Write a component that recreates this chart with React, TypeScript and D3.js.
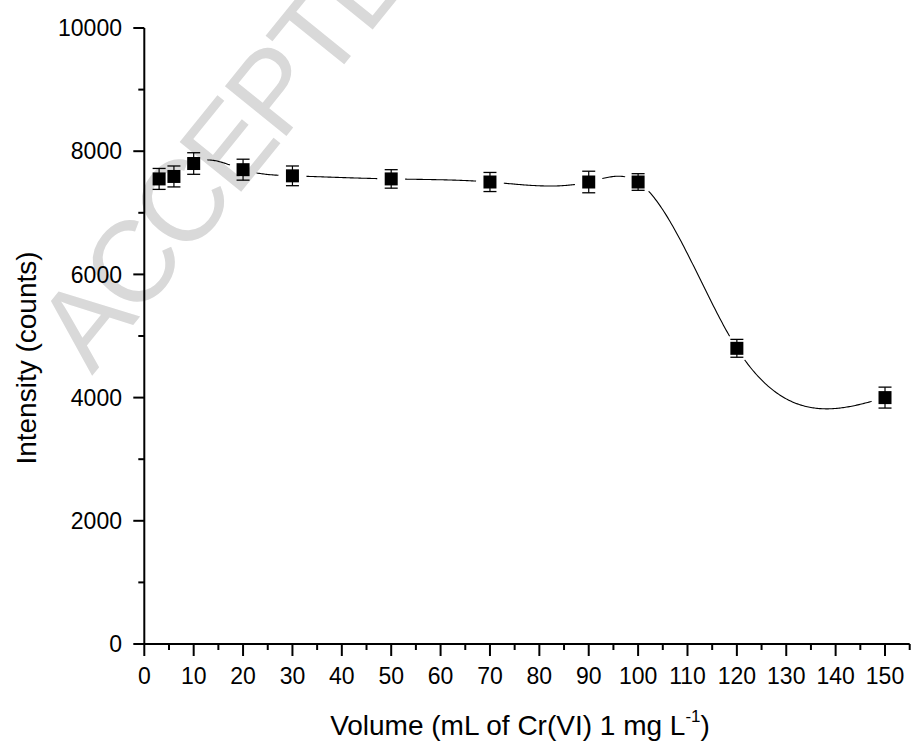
import React from "react";
import * as d3 from "d3";

const volumes = [3, 6, 10, 20, 30, 50, 70, 90, 100, 120, 150];
const intensity = [7550, 7590, 7800, 7700, 7600, 7550, 7500, 7500, 7500, 4800, 4000];
const intensityErr = [170, 170, 175, 170, 160, 150, 155, 175, 135, 145, 170];
const xMajorTicks = [0, 10, 20, 30, 40, 50, 60, 70, 80, 90, 100, 110, 120, 130, 140, 150];
const xMinorTicks = [5, 15, 25, 35, 45, 55, 65, 75, 85, 95, 105, 115, 125, 135, 145, 155];
const yMajorTicks = [0, 2000, 4000, 6000, 8000, 10000];
const yMinorTicks = [1000, 3000, 5000, 7000, 9000];

const W = 911;
const H = 744;
const FONT = "'Liberation Sans', Arial, Helvetica, sans-serif";

// natural cubic spline y(x) through the data points
function naturalSpline(xs: number[], ys: number[]) {
  const n = xs.length;
  const h: number[] = [];
  for (let i = 0; i < n - 1; i++) h.push(xs[i + 1] - xs[i]);
  const a = new Array(n).fill(0);
  const b = new Array(n).fill(1);
  const c = new Array(n).fill(0);
  const d = new Array(n).fill(0);
  for (let i = 1; i < n - 1; i++) {
    a[i] = h[i - 1];
    b[i] = 2 * (h[i - 1] + h[i]);
    c[i] = h[i];
    d[i] = 6 * ((ys[i + 1] - ys[i]) / h[i] - (ys[i] - ys[i - 1]) / h[i - 1]);
  }
  const cp = new Array(n).fill(0);
  const dp = new Array(n).fill(0);
  cp[0] = c[0] / b[0];
  dp[0] = d[0] / b[0];
  for (let i = 1; i < n; i++) {
    const m = b[i] - a[i] * cp[i - 1];
    cp[i] = c[i] / m;
    dp[i] = (d[i] - a[i] * dp[i - 1]) / m;
  }
  const M = new Array(n).fill(0);
  M[n - 1] = dp[n - 1];
  for (let i = n - 2; i >= 0; i--) M[i] = dp[i] - cp[i] * M[i + 1];
  return (x: number) => {
    let i = 0;
    while (i < n - 2 && x > xs[i + 1]) i++;
    const hi = h[i];
    const t1 = xs[i + 1] - x;
    const t2 = x - xs[i];
    return (
      (M[i] * t1 * t1 * t1) / (6 * hi) +
      (M[i + 1] * t2 * t2 * t2) / (6 * hi) +
      (ys[i] / hi - (M[i] * hi) / 6) * t1 +
      (ys[i + 1] / hi - (M[i + 1] * hi) / 6) * t2
    );
  };
}

export default function App() {
  const x = d3.scaleLinear().domain([0, 155]).range([144.3, 909.7]);
  const y = d3.scaleLinear().domain([0, 10000]).range([644, 28]);

  const spline = naturalSpline(volumes, intensity);
  const samples = d3.range(volumes[0], volumes[volumes.length - 1] + 0.001, 0.25);
  const line = d3
    .line<number>()
    .x((v) => x(v))
    .y((v) => y(spline(v)));
  const pathD = line(samples) || "";

  const pts = volumes.map((v, i) => ({ v, val: intensity[i], err: intensityErr[i] }));
  const axisY = 644;
  const axisX = 144.3;

  return (
    <div style={{ position: "absolute", left: 0, top: 0 }}>
      <svg width={W} height={H} style={{ display: "block", background: "#fff" }}>
        <defs>
          <mask id="gapMask" maskUnits="userSpaceOnUse" x={0} y={0} width={W} height={H}>
            <rect x={0} y={0} width={W} height={H} fill="#fff" />
            {pts.map((p, i) => (
              <circle key={i} cx={x(p.v)} cy={y(p.val)} r={14} fill="#000" />
            ))}
          </mask>
        </defs>

        {/* watermark */}
        <text
          transform="translate(92,376) rotate(-51)"
          fontFamily={FONT}
          fontSize={115}
          letterSpacing={-5}
          fill="#d9d9d9"
        >
          ACCEPTED MANUSCRIPT
        </text>

        {/* curve */}
        <path d={pathD} fill="none" stroke="#000" strokeWidth={1.1} mask="url(#gapMask)" />

        {/* error bars and markers */}
        {pts.map((p, i) => {
          const cx = x(p.v);
          const top = y(p.val + p.err);
          const bot = y(p.val - p.err);
          return (
            <g key={i}>
              <line x1={cx} x2={cx} y1={top} y2={bot} stroke="#000" strokeWidth={1.2} />
              <line x1={cx - 6.5} x2={cx + 6.5} y1={top} y2={top} stroke="#000" strokeWidth={1.3} />
              <line x1={cx - 6.5} x2={cx + 6.5} y1={bot} y2={bot} stroke="#000" strokeWidth={1.3} />
              <rect x={cx - 6.5} y={y(p.val) - 6.5} width={13} height={13} fill="#000" />
            </g>
          );
        })}

        {/* axes */}
        <line x1={axisX} x2={axisX} y1={y(10000)} y2={axisY + 1} stroke="#000" strokeWidth={2} />
        <line x1={axisX - 1} x2={x(155)} y1={axisY} y2={axisY} stroke="#000" strokeWidth={2} />

        {yMajorTicks.map((t) => (
          <g key={"ym" + t}>
            <line x1={axisX - 11} x2={axisX} y1={y(t)} y2={y(t)} stroke="#000" strokeWidth={2} />
            <text
              x={122}
              y={y(t)}
              dy="0.36em"
              textAnchor="end"
              fontFamily={FONT}
              fontSize={23}
              fill="#000"
            >
              {t}
            </text>
          </g>
        ))}
        {yMinorTicks.map((t) => (
          <line key={"yn" + t} x1={axisX - 6} x2={axisX} y1={y(t)} y2={y(t)} stroke="#000" strokeWidth={2} />
        ))}

        {xMajorTicks.map((t) => (
          <g key={"xm" + t}>
            <line x1={x(t)} x2={x(t)} y1={axisY} y2={axisY + 12} stroke="#000" strokeWidth={2} />
            <text
              x={x(t)}
              y={683.5}
              textAnchor="middle"
              fontFamily={FONT}
              fontSize={23}
              fill="#000"
            >
              {t}
            </text>
          </g>
        ))}
        {xMinorTicks.map((t) => (
          <line key={"xn" + t} x1={x(t)} x2={x(t)} y1={axisY} y2={axisY + 6} stroke="#000" strokeWidth={2} />
        ))}

        {/* axis titles */}
        <text x={520} y={735} textAnchor="middle" fontFamily={FONT} fontSize={28} fill="#000">
          Volume (mL of Cr(VI) 1 mg L
          <tspan fontSize={17} dy={-13}>-1</tspan>
          <tspan dy={13}>)</tspan>
        </text>
        <text
          transform="translate(36,358) rotate(-90)"
          textAnchor="middle"
          fontFamily={FONT}
          fontSize={28}
          fill="#000"
        >
          Intensity (counts)
        </text>
      </svg>
    </div>
  );
}
